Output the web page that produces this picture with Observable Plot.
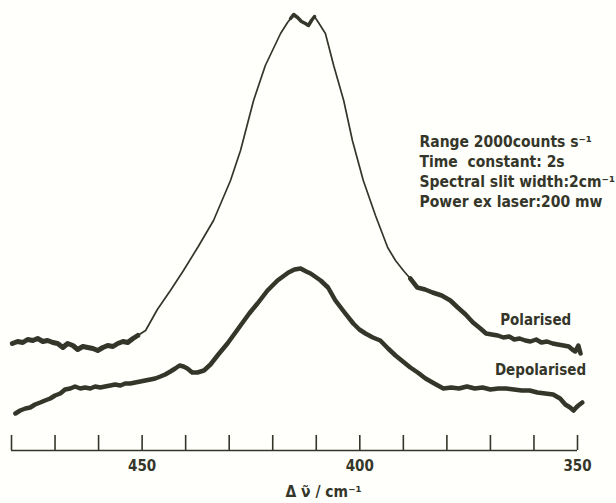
<!DOCTYPE html>
<html>
<head>
<meta charset="utf-8">
<script src="https://cdn.jsdelivr.net/npm/d3@7"></script>
<script src="https://cdn.jsdelivr.net/npm/@observablehq/plot@0.6"></script>
<style>
  html, body { margin: 0; padding: 0; background: #fffffb; }
  #chart svg { display: block; }
</style>
</head>
<body>
<div id="chart"></div>
<script>
// Raman shift (cm^-1) and intensity (arbitrary units)
const polWave = [479.8,478.6,477.4,476.3,475.1,474.0,472.8,471.7,470.5,469.4,468.2,467.1,465.9,464.8,463.6,462.5,461.3,460.2,459.0,457.9,456.7,455.6,454.4,453.3,452.1,451.0,449.2,446.5,443.5,440.5,437.1,433.6,429.7,427.4,424.4,421.7,418.2,416.6,415.9,415.2,414.3,413.4,412.5,411.8,411.1,410.4,409.5,407.9,406.0,403.7,401.7,399.2,396.4,393.6,391.8,390.0,388.4,386.8,385.0,383.3,381.2,379.2,377.5,375.7,374.0,372.3,371.0,369.7,368.3,367.0,365.7,364.5,363.3,362.0,360.8,359.5,358.3,357.0,355.7,354.5,353.2,352.0,351.2,350.5,349.8,349.3];
const polInt  = [107,109,108,111,110,112,109,110,108,107,103,107,105,101,104,103,102,100,103,105,104,107,109,108,112,115,120,141,160,180,204,230,270,300,350,385,417,428,432,436,433,429,427,425,430,434,428,417,385,350,310,270,235,203,190,180,172,163,161,158,155,150,143,136,128,122,117,116,115,113,114,111,112,110,109,111,108,109,107,106,105,104,101,99,105,97];

const depWave = [479.1,478.0,476.8,475.7,474.6,473.4,472.3,471.1,470.0,468.8,467.7,466.5,465.4,464.2,463.1,461.9,460.8,459.6,458.5,457.3,456.2,455.0,453.9,452.7,451.6,450.4,449.3,448.1,447.0,445.8,444.7,443.5,442.4,441.4,440.5,439.6,438.5,437.3,435.8,434.3,432.5,430.4,427.4,425.4,423.5,421.2,418.9,416.4,415.0,413.6,412.3,411.3,409.0,407.3,405.6,403.5,401.5,400.1,398.7,397.0,395.3,393.5,391.8,390.1,388.4,386.7,384.9,382.9,380.8,379.0,377.2,375.4,373.6,371.8,370.0,368.2,366.4,364.6,362.8,361.0,359.2,357.4,355.6,354.0,352.8,351.7,350.9,350.3,349.8,348.9];
const depInt  = [37,40,42,43,46,48,50,52,55,57,61,62,64,62,63,62,64,63,64,65,66,65,67,67,68,69,70,71,72,74,76,79,82,85,84,82,78,78,80,86,96,107,125,137,147,160,170,178,181,182,179,177,170,163,150,138,127,121,117,113,110,102,95,89,83,78,72,67,62,63,62,64,62,63,61,62,62,61,60,60,58,57,56,52,46,43,40,43,45,48];

const xTicks = [480,470,460,450,440,430,420,410,400,390,380,370,360,350];
const xLabels = [450,400,350];
const seriesNames = ["Polarised", "Depolarised"];
const seriesLabelWave = [359.6, 358.5];
const seriesLabelInt = [130, 80];
const infoLines = [
  "Range 2000counts s\u207B\u00B9",
  "Time  constant: 2s",
  "Spectral slit width:2cm\u207B\u00B9",
  "Power ex laser:200 mw"
];
const axisTitle = "\u0394 \u03BD\u0303 / cm\u207B\u00B9";

const pol = polWave.map((w, i) => ({w, v: polInt[i]}));
const dep = depWave.map((w, i) => ({w, v: depInt[i]}));
const polFlatLeft = pol.filter(d => d.w >= 450.5);
const polTop = pol.filter(d => d.w <= 416.2 && d.w >= 409.8);
const polFlatRight = pol.filter(d => d.w <= 389);
const labels = seriesNames.map((name, i) => ({name, w: seriesLabelWave[i], v: seriesLabelInt[i]}));

const ink = "#35362a";
const fontC = "'DejaVu Sans Condensed', 'DejaVu Sans', sans-serif";
const infoStyle = {frameAnchor: "top-left", dx: 408, lineAnchor: "top", fill: ink, fontSize: 15.5, fontWeight: 600};

const chart = Plot.plot({
  width: 616,
  height: 503,
  marginLeft: 11,
  marginRight: 39,
  marginTop: 0,
  marginBottom: 53,
  style: {background: "#fffffb", fontFamily: fontC, color: ink},
  x: {domain: [480, 350], axis: null},
  y: {domain: [0, 450], axis: null},
  marks: [
    Plot.ruleY([0], {stroke: ink, strokeWidth: 1.6}),
    Plot.ruleX(xTicks, {x: d => d, y1: 0, y2: 15, stroke: ink, strokeWidth: 1.6}),
    Plot.text(xLabels, {x: d => d, y: 0, dy: 16, text: d => String(d), fill: ink, fontSize: 15, fontWeight: 600, lineAnchor: "middle"}),
    Plot.text([axisTitle], {frameAnchor: "bottom", dx: 29, dy: 42, fill: ink, fontSize: 15.5, fontWeight: 600, lineAnchor: "middle"}),
    Plot.line(pol, {x: "w", y: "v", stroke: ink, strokeWidth: 1.7, strokeLinejoin: "round"}),
    Plot.line(polFlatLeft, {x: "w", y: "v", stroke: ink, strokeWidth: 5, strokeLinejoin: "round", strokeLinecap: "round"}),
    Plot.line(polTop, {x: "w", y: "v", stroke: ink, strokeWidth: 3.5, strokeLinejoin: "round", strokeLinecap: "round"}),
    Plot.line(polFlatRight, {x: "w", y: "v", stroke: ink, strokeWidth: 4.5, strokeLinejoin: "round", strokeLinecap: "round"}),
    Plot.line(dep, {x: "w", y: "v", stroke: ink, strokeWidth: 4.5, strokeLinejoin: "round", strokeLinecap: "round"}),
    Plot.text(labels, {x: "w", y: "v", text: "name", fill: ink, fontSize: 15, fontWeight: 600}),
    ...infoLines.map((line, i) => Plot.text([line], {...infoStyle, dy: 135 + i * 20}))
  ]
});
document.getElementById("chart").appendChild(chart);
</script>
</body>
</html>
